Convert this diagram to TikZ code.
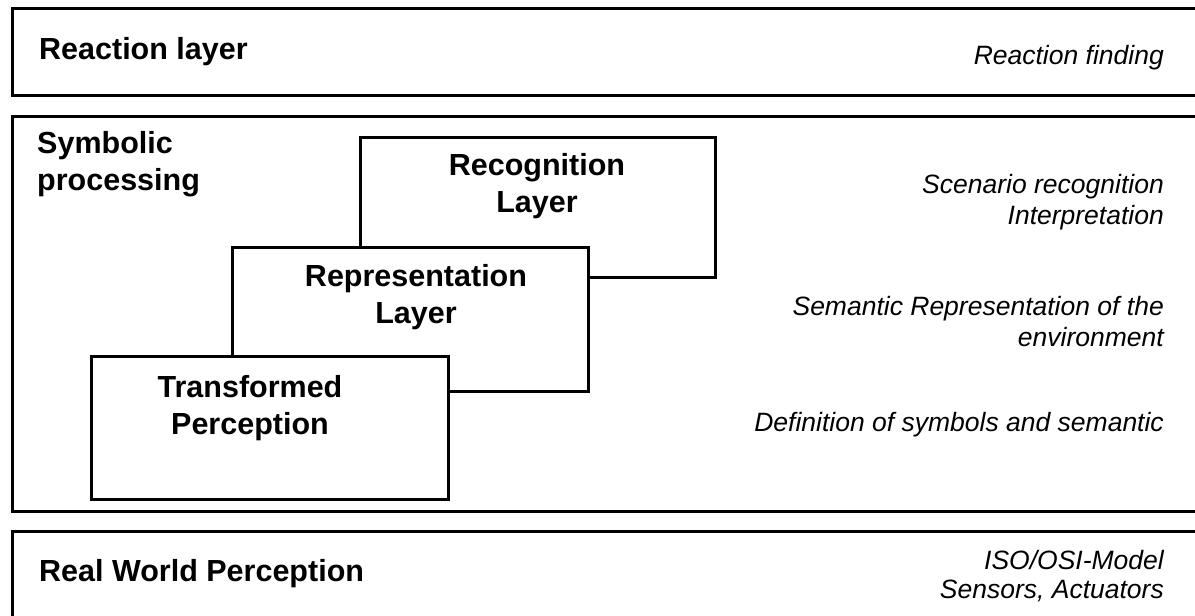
\documentclass[tikz,border=0pt]{standalone}
\usepackage{fontspec}
\setmainfont{Liberation Sans}
\begin{document}
\begin{tikzpicture}[x=1pt,y=-1pt,
  outerbox/.style={draw=black,line width=3pt},
  innerbox/.style={draw=black,fill=white,line width=2.6pt},
  boldtxt/.style={font=\fontsize{30.5}{36.5}\selectfont\bfseries,inner sep=0pt},
  ittxt/.style={font=\fontsize{26.5}{31}\selectfont\itshape,inner sep=0pt,align=right,anchor=base east}]
\useasboundingbox (0,0) rectangle (1195,616);
\clip (0,0) rectangle (1195,616);
% outer layers
\draw[outerbox] (12.5,8.5) rectangle (1215,95);
\draw[outerbox] (12.5,116.5) rectangle (1215,511);
\draw[outerbox] (12.5,531) rectangle (1215,640);
% inner stacked boxes
\node[innerbox,minimum width=355pt,minimum height=140pt,anchor=north west,inner sep=0pt] (recog) at (359,136) {};
\node[innerbox,minimum width=356pt,minimum height=144pt,anchor=north west,inner sep=0pt] (repr) at (231,246) {};
\node[innerbox,minimum width=357pt,minimum height=143pt,anchor=north west,inner sep=0pt] (trans) at (90,355) {};
% bold labels (base = baseline of last line)
\node[boldtxt,anchor=base west] (reactionlbl) at (39,59) {Reaction layer};
\node[boldtxt,anchor=base west,align=left] (symblbl) at (37,190) {Symbolic\\processing};
\node[boldtxt,anchor=base west] (reallbl) at (39,581) {Real World Perception};
\node[boldtxt,anchor=base,align=center] (recoglbl) at (537,212) {Recognition\\Layer};
\node[boldtxt,anchor=base,align=center] (reprlbl) at (416,323) {Representation\\Layer};
\node[boldtxt,anchor=base,align=center] (translbl) at (250,434) {Transformed\\Perception};
% italic descriptions
\node[ittxt] (reactfind) at (1164,64) {Reaction finding};
\node[ittxt] (scen) at (1164,224) {Scenario recognition\\Interpretation};
\node[ittxt] (sem) at (1164,346) {Semantic Representation of the\\environment};
\node[ittxt] (defn) at (1164,431) {Definition of symbols and semantic};
\node[ittxt,font=\fontsize{26.5}{29}\selectfont\itshape] (iso) at (1164,598) {ISO/OSI-Model\\Sensors, Actuators};
\end{tikzpicture}
\end{document}
